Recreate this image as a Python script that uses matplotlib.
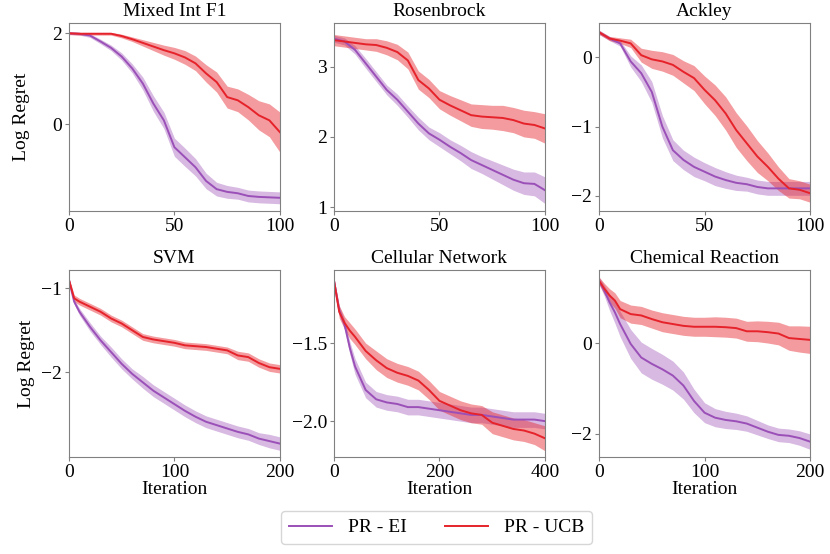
import numpy as np
import matplotlib
matplotlib.use("Agg")
import matplotlib.pyplot as plt

plt.rcParams['font.family'] = ['Liberation Serif', 'DejaVu Serif']
plt.rcParams['mathtext.fontset'] = 'stix'
plt.rcParams['font.size'] = 14

titles = ["Mixed Int F1", "Rosenbrock", "Ackley",
          "SVM", "Cellular Network", "Chemical Reaction"]

# iteration grids
it_100 = [0, 5, 10, 15, 20, 25, 30, 35, 40, 45, 50, 55, 60, 65, 70, 75, 80, 85, 90, 95, 100]
it_200 = [0, 5, 10, 20, 30, 40, 50, 60, 70, 80, 90, 100, 110, 120, 130, 140, 150, 160, 170, 180, 190, 200]
it_400 = [0, 10, 20, 30, 40, 60, 80, 100, 120, 140, 160, 180, 200, 220, 240, 260, 280, 300, 320, 340, 360, 380, 400]
it_chem = [0, 5, 10, 15, 20, 30, 40, 50, 60, 70, 80, 90, 100, 110, 120, 130, 140, 150, 160, 170, 180, 190, 200]

# Mixed Int F1
mif_ei = [2.0, 1.99, 1.95, 1.82, 1.68, 1.49, 1.23, 0.90, 0.46, 0.09, -0.50, -0.72, -0.94, -1.24, -1.42, -1.48, -1.51, -1.57, -1.59, -1.60, -1.61]
mif_ei_err = [0.02, 0.03, 0.04, 0.05, 0.06, 0.08, 0.10, 0.14, 0.17, 0.18, 0.20, 0.20, 0.19, 0.17, 0.15, 0.14, 0.13, 0.13, 0.13, 0.13, 0.13]
mif_ucb = [2.0, 1.99, 1.99, 1.99, 1.99, 1.94, 1.87, 1.79, 1.71, 1.63, 1.56, 1.47, 1.34, 1.12, 0.93, 0.60, 0.53, 0.38, 0.20, 0.09, -0.17]
mif_ucb_err = [0.03, 0.03, 0.03, 0.03, 0.03, 0.04, 0.05, 0.07, 0.09, 0.11, 0.13, 0.15, 0.16, 0.19, 0.22, 0.24, 0.25, 0.28, 0.32, 0.36, 0.44]

# Rosenbrock
ros_ei = [3.40, 3.36, 3.24, 3.05, 2.86, 2.67, 2.53, 2.36, 2.19, 2.05, 1.96, 1.86, 1.77, 1.67, 1.60, 1.53, 1.46, 1.39, 1.34, 1.33, 1.24]
ros_ei_err = [0.05, 0.05, 0.06, 0.07, 0.07, 0.07, 0.08, 0.08, 0.09, 0.09, 0.10, 0.10, 0.11, 0.12, 0.12, 0.13, 0.14, 0.15, 0.16, 0.17, 0.19]
ros_ucb = [3.38, 3.36, 3.34, 3.32, 3.31, 3.27, 3.21, 3.09, 2.81, 2.69, 2.53, 2.45, 2.38, 2.31, 2.29, 2.28, 2.27, 2.24, 2.19, 2.17, 2.12]
ros_ucb_err = [0.08, 0.08, 0.08, 0.08, 0.09, 0.10, 0.11, 0.12, 0.13, 0.13, 0.13, 0.14, 0.15, 0.16, 0.17, 0.17, 0.18, 0.18, 0.19, 0.19, 0.21]

# Ackley
ack_ei = [0.36, 0.27, 0.20, -0.06, -0.23, -0.50, -1.00, -1.34, -1.48, -1.58, -1.65, -1.72, -1.77, -1.81, -1.83, -1.87, -1.89, -1.89, -1.89, -1.89, -1.89]
ack_ei_err = [0.03, 0.03, 0.04, 0.08, 0.12, 0.15, 0.16, 0.15, 0.14, 0.14, 0.13, 0.13, 0.12, 0.11, 0.10, 0.10, 0.10, 0.10, 0.10, 0.10, 0.10]
ack_ucb = [0.36, 0.27, 0.24, 0.20, 0.03, -0.03, -0.06, -0.11, -0.21, -0.30, -0.47, -0.62, -0.81, -1.05, -1.24, -1.43, -1.58, -1.75, -1.89, -1.91, -1.96]
ack_ucb_err = [0.03, 0.03, 0.04, 0.06, 0.10, 0.13, 0.14, 0.15, 0.16, 0.18, 0.20, 0.22, 0.24, 0.25, 0.25, 0.23, 0.20, 0.17, 0.14, 0.13, 0.13]

# SVM
svm_ei = [-0.90, -1.16, -1.28, -1.46, -1.62, -1.76, -1.90, -2.02, -2.12, -2.22, -2.30, -2.38, -2.46, -2.53, -2.59, -2.63, -2.67, -2.71, -2.74, -2.79, -2.82, -2.85]
svm_ei_err = [0.02, 0.03, 0.04, 0.05, 0.05, 0.06, 0.06, 0.06, 0.07, 0.07, 0.07, 0.07, 0.07, 0.07, 0.07, 0.07, 0.07, 0.07, 0.07, 0.07, 0.08, 0.08]
svm_ucb = [-0.90, -1.12, -1.16, -1.22, -1.28, -1.36, -1.42, -1.50, -1.58, -1.61, -1.63, -1.65, -1.68, -1.69, -1.70, -1.72, -1.74, -1.80, -1.82, -1.89, -1.94, -1.96]
svm_ucb_err = [0.03, 0.04, 0.04, 0.04, 0.04, 0.04, 0.04, 0.04, 0.04, 0.04, 0.04, 0.04, 0.04, 0.04, 0.04, 0.04, 0.04, 0.05, 0.05, 0.05, 0.05, 0.05]

# Cellular Network
cel_ei = [-1.10, -1.29, -1.38, -1.53, -1.65, -1.80, -1.86, -1.88, -1.89, -1.91, -1.91, -1.92, -1.93, -1.94, -1.95, -1.96, -1.96, -1.97, -1.98, -1.99, -1.99, -1.99, -2.00]
cel_ei_err = [0.02, 0.03, 0.03, 0.04, 0.05, 0.05, 0.05, 0.05, 0.05, 0.05, 0.05, 0.05, 0.05, 0.05, 0.05, 0.05, 0.05, 0.05, 0.05, 0.05, 0.05, 0.05, 0.05]
cel_ucb = [-1.10, -1.30, -1.37, -1.42, -1.46, -1.55, -1.61, -1.66, -1.69, -1.71, -1.74, -1.80, -1.87, -1.90, -1.93, -1.95, -1.96, -2.01, -2.03, -2.05, -2.06, -2.08, -2.11]
cel_ucb_err = [0.02, 0.04, 0.04, 0.05, 0.05, 0.05, 0.06, 0.06, 0.06, 0.06, 0.06, 0.06, 0.06, 0.06, 0.06, 0.06, 0.06, 0.07, 0.07, 0.07, 0.07, 0.07, 0.08]

# Chemical Reaction
chm_ei = [1.38, 1.16, 0.90, 0.68, 0.42, -0.02, -0.32, -0.46, -0.58, -0.72, -0.94, -1.28, -1.54, -1.65, -1.70, -1.73, -1.78, -1.87, -1.96, -2.03, -2.05, -2.10, -2.18]
chm_ei_err = [0.08, 0.12, 0.18, 0.24, 0.28, 0.32, 0.34, 0.34, 0.33, 0.32, 0.30, 0.26, 0.22, 0.20, 0.19, 0.18, 0.17, 0.16, 0.15, 0.15, 0.15, 0.16, 0.17]
chm_ucb = [1.38, 1.20, 1.05, 0.94, 0.75, 0.64, 0.61, 0.53, 0.46, 0.42, 0.38, 0.36, 0.36, 0.36, 0.35, 0.33, 0.26, 0.26, 0.24, 0.21, 0.11, 0.09, 0.07]
chm_ucb_err = [0.08, 0.12, 0.15, 0.17, 0.19, 0.20, 0.20, 0.20, 0.21, 0.21, 0.21, 0.21, 0.21, 0.22, 0.22, 0.22, 0.22, 0.23, 0.24, 0.25, 0.27, 0.29, 0.30]

panels = [
    (it_100, mif_ei, mif_ei_err, mif_ucb, mif_ucb_err),
    (it_100, ros_ei, ros_ei_err, ros_ucb, ros_ucb_err),
    (it_100, ack_ei, ack_ei_err, ack_ucb, ack_ucb_err),
    (it_200, svm_ei, svm_ei_err, svm_ucb, svm_ucb_err),
    (it_400, cel_ei, cel_ei_err, cel_ucb, cel_ucb_err),
    (it_chem, chm_ei, chm_ei_err, chm_ucb, chm_ucb_err),
]

y_ticks = [[0, 2], [1, 2, 3], [-2, -1, 0], [-2, -1], [-2.0, -1.5], [-2, 0]]
y_limits = [(-1.89, 2.22), (0.95, 3.62), (-2.21, 0.49), (-3.01, -0.78), (-2.23, -1.03), (-2.52, 1.62)]
x_ticks = [[0, 50, 100], [0, 50, 100], [0, 50, 100], [0, 100, 200], [0, 200, 400], [0, 100, 200]]

ei_color = '#9b50b8'
ucb_color = '#e6222a'

fig, axes = plt.subplots(2, 3, figsize=(8.3, 5.54), dpi=100)
fig.subplots_adjust(left=0.083, right=0.976, top=0.958, bottom=0.175, wspace=0.256, hspace=0.316)

for i, ax in enumerate(axes.flat):
    x, ei, ei_err, ucb, ucb_err = [np.array(a) for a in panels[i]]
    ax.fill_between(x, ei - ei_err, ei + ei_err, color=ei_color, alpha=0.4, linewidth=0)
    ax.plot(x, ei, color=ei_color, lw=1.4, label='PR - EI')
    ax.fill_between(x, ucb - ucb_err, ucb + ucb_err, color=ucb_color, alpha=0.45, linewidth=0)
    ax.plot(x, ucb, color=ucb_color, lw=1.4, label='PR - UCB')
    ax.set_xlim(x[0], x[-1])
    ax.set_ylim(*y_limits[i])
    ax.set_xticks(x_ticks[i])
    ax.set_yticks(y_ticks[i])
    if i == 4:
        ax.set_yticklabels(['\u22122.0', '\u22121.5'])
    ax.set_title(titles[i], fontsize=14, pad=5)
    for s in ax.spines.values():
        s.set_color('#808080')
    ax.tick_params(color='#808080', length=3, labelsize=14, pad=2)
    if i >= 3:
        ax.set_xlabel('Iteration', fontsize=14, labelpad=0)

axes[0, 0].set_ylabel('Log Regret', fontsize=14)
axes[0, 0].yaxis.set_label_coords(-0.185, 0.5)
axes[1, 0].set_ylabel('Log Regret', fontsize=14)
axes[1, 0].yaxis.set_label_coords(-0.16, 0.5)

handles, labels = axes[0, 0].get_legend_handles_labels()
fig.legend(handles, labels, loc='lower center', bbox_to_anchor=(0.526, 0.0), ncol=2,
           fontsize=14, frameon=True, columnspacing=2.0, handlelength=2.2)

fig.savefig('out.png', dpi=100)
